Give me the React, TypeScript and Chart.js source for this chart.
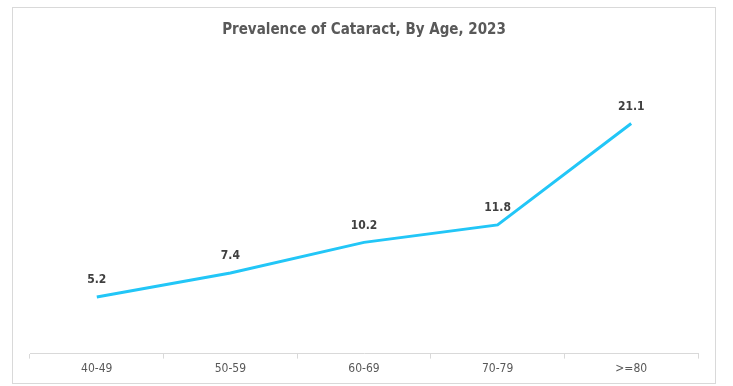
import React, { useEffect, useRef } from "react";
import { Chart, registerables } from "chart.js";

Chart.register(...registerables);

const categories = ["40-49", "50-59", "60-69", "70-79", ">=80"];
const prevalence = [5.2, 7.4, 10.2, 11.8, 21.1];
const chartTitle = "Prevalence of Cataract, By Age, 2023";

const FONT = "'Liberation Sans Narrow', 'DejaVu Sans Condensed', 'Open Sans', sans-serif";

const dataLabels = {
  id: "dataLabels",
  afterDatasetsDraw(chart: any) {
    const ctx = chart.ctx;
    const meta = chart.getDatasetMeta(0);
    ctx.save();
    ctx.font = `bold 12px ${FONT}`;
    ctx.fillStyle = "#404040";
    ctx.textAlign = "center";
    ctx.textBaseline = "middle";
    meta.data.forEach((pt: any, i: number) => {
      ctx.fillText(String(prevalence[i].toFixed(1)), pt.x, pt.y - 17);
    });
    ctx.restore();
  },
};

export default function App() {
  const ref = useRef<HTMLCanvasElement>(null);
  useEffect(() => {
    document.body.style.margin = "0";
    const chart = new Chart(ref.current!, {
      type: "line",
      data: {
        labels: categories,
        datasets: [
          {
            data: prevalence,
            borderColor: "#22c6f7",
            borderWidth: 3,
            pointRadius: 0,
            tension: 0,
            fill: false,
          },
        ],
      },
      options: {
        responsive: false,
        animation: false,
        layout: { padding: { left: 30, right: 35, top: 0, bottom: 7 } },
        plugins: {
          legend: { display: false },
          tooltip: { enabled: false },
          title: {
            display: true,
            text: chartTitle,
            color: "#595959",
            font: { family: FONT, size: 15, weight: "bold" },
            padding: { top: 21, bottom: 42 },
          },
        },
        scales: {
          x: {
            offset: true,
            grid: {
              offset: true,
              drawOnChartArea: false,
              drawTicks: true,
              tickLength: 5,
              color: "#d9d9d9",
            },
            border: { display: true, color: "#d9d9d9", width: 1 },
            ticks: {
              color: "#595959",
              font: { family: FONT, size: 12 },
              padding: 3,
            },
          },
          y: {
            display: false,
            min: 0,
            max: 25,
          },
        },
      },
      plugins: [dataLabels],
    });
    return () => chart.destroy();
  }, []);
  return (
    <div style={{ position: "relative", width: 733, height: 386 }}>
      <div
        style={{
          position: "absolute",
          left: 12,
          top: 7,
          width: 704,
          height: 377,
          border: "1px solid #d9d9d9",
          boxSizing: "border-box",
        }}
      />
      <canvas
        ref={ref}
        width={733}
        height={386}
        style={{ position: "absolute", left: 0, top: 0, width: 733, height: 386 }}
      />
    </div>
  );
}
